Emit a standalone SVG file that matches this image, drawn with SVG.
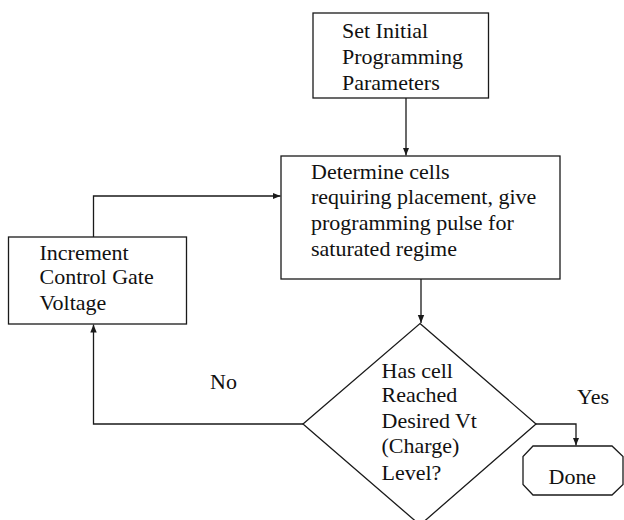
<svg xmlns="http://www.w3.org/2000/svg" width="624" height="520" viewBox="0 0 624 520">
  <style>
    .box { fill: #ffffff; stroke: #1a1a1a; stroke-width: 1.3; }
    .wire { fill: none; stroke: #1a1a1a; stroke-width: 1.3; }
    .t { font-family: "Liberation Serif", "Times New Roman", serif; font-size: 20px; fill: #111111; }
  </style>
  <defs>
    <marker id="arrow" viewBox="0 0 10 10" refX="10" refY="5" markerWidth="8" markerHeight="8" markerUnits="userSpaceOnUse" orient="auto">
      <path d="M0,1 L10,5 L0,9 Z" fill="#1a1a1a"/>
    </marker>
  </defs>
  <rect width="624" height="520" fill="#ffffff"/>

  <g id="connectors">
    <line class="wire" x1="406" y1="98" x2="406" y2="155.5" marker-end="url(#arrow)"/>
    <line class="wire" x1="421" y1="279" x2="421" y2="323" marker-end="url(#arrow)"/>
    <polyline class="wire" points="93.5,237 93.5,196 280.5,196" marker-end="url(#arrow)"/>
    <polyline class="wire" points="303,424 93.5,424 93.5,324.5" marker-end="url(#arrow)"/>
    <polyline class="wire" points="536,424 576,424 576,445.5" marker-end="url(#arrow)"/>
  </g>

  <g id="set-initial">
    <rect class="box" x="313" y="13" width="175.5" height="85"/>
    <text class="t" transform="translate(342 38) scale(1.1 1)"><tspan x="0" y="0">Set Initial</tspan><tspan x="0" y="25.6">Programming</tspan><tspan x="0" y="52">Parameters</tspan></text>
  </g>

  <g id="determine-cells">
    <rect class="box" x="281" y="156" width="279" height="123"/>
    <text class="t" transform="translate(311 179) scale(1.1 1)"><tspan x="0" y="0">Determine cells</tspan><tspan x="0" y="25.5">requiring placement, give</tspan><tspan x="0" y="51">programming pulse for</tspan><tspan x="0" y="76.7">saturated regime</tspan></text>
  </g>

  <g id="increment-voltage">
    <rect class="box" x="8.5" y="237" width="178" height="87"/>
    <text class="t" transform="translate(39.5 259.5) scale(1.1 1)"><tspan x="0" y="0">Increment</tspan><tspan x="0" y="25">Control Gate</tspan><tspan x="0" y="50.5">Voltage</tspan></text>
  </g>

  <g id="reached-level">
    <polygon class="box" points="420,323.5 536,424 420,525 303,424"/>
    <text class="t" transform="translate(381.5 377.5) scale(1.1 1)"><tspan x="0" y="0">Has cell</tspan><tspan x="0" y="25">Reached</tspan><tspan x="0" y="51">Desired Vt</tspan><tspan x="0" y="76">(Charge)</tspan><tspan x="0" y="102.5">Level?</tspan></text>
  </g>

  <g id="done">
    <polygon class="box" points="533,446 612,446 623,456.5 623,484.5 612,495 533,495 523,484.5 523,456.5"/>
    <text class="t" transform="translate(548.5 484) scale(1.1 1)">Done</text>
  </g>

  <g id="branch-labels">
    <text class="t" transform="translate(210 389) scale(1.1 1)">No</text>
    <text class="t" transform="translate(577 404) scale(1.1 1)">Yes</text>
  </g>
</svg>
